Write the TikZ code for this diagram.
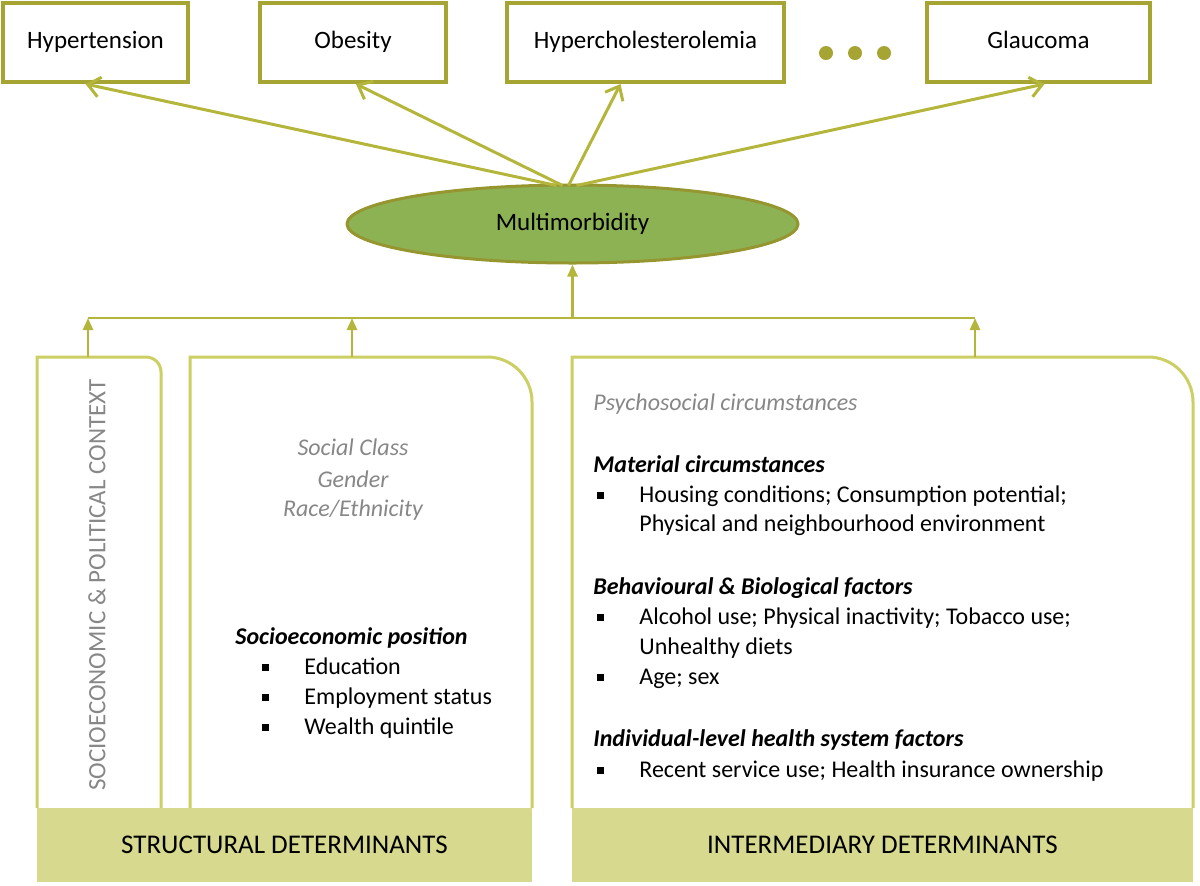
\documentclass[tikz,border=0pt]{standalone}
\usepackage{fontspec}
\setmainfont{Carlito}
\usetikzlibrary{positioning,arrows.meta,calc,shapes.geometric}

\definecolor{boxOlive}{RGB}{166,164,50}
\definecolor{lineOlive}{RGB}{180,182,60}
\definecolor{paleOlive}{RGB}{204,207,100}
\definecolor{bandFill}{RGB}{214,217,142}
\definecolor{mmFill}{RGB}{141,178,84}
\definecolor{mmDraw}{RGB}{150,150,48}
\definecolor{softGray}{RGB}{135,135,135}

\tikzset{
  disease/.style={draw=boxOlive, line width=2pt, fill=white, inner sep=0pt,
    minimum height=39.5pt, text height=0.8em, text depth=0.2em,
    font=\fontsize{12.5}{15}\selectfont},
  dot/.style={circle, fill=boxOlive, inner sep=0pt, minimum size=7pt},
  upline/.style={draw=lineOlive, line width=1.5pt,
    -{Straight Barb[length=6pt,width=10pt]}},
  busline/.style={draw=lineOlive, line width=1.3pt},
  busarrow/.style={draw=lineOlive, line width=1.2pt,
    -{Triangle[length=6pt,width=5pt]}},
  frame/.style={draw=paleOlive, line width=1.5pt},
  band/.style={fill=bandFill, inner sep=0pt, minimum height=37pt,
    font=\fontsize{13.5}{16}\selectfont},
  txt/.style={anchor=base west, inner sep=0pt, font=\fontsize{12}{14}\selectfont},
  head/.style={txt, font=\fontsize{12}{14}\selectfont\bfseries\itshape},
  soft/.style={inner sep=0pt, text=softGray, font=\fontsize{12}{14}\selectfont\itshape}
}
\newcommand{\bul}[1]{\makebox[21pt][l]{\rule[0.12em]{0.28em}{0.3em}}#1}

\begin{document}
\begin{tikzpicture}[x=0.5pt,y=-0.5pt]
\path[use as bounding box] (0,0) rectangle (1200,885);

% outcomes
\node[disease, minimum width=92.5pt] (hyp) at (95.5,42.5) {Hypertension};
\node[disease, minimum width=93pt] (obe) at (353,42.5) {Obesity};
\node[disease, minimum width=138.5pt] (hch) at (645.5,42.5) {Hypercholesterolemia};
\node[disease, minimum width=111.5pt] (gla) at (1038.5,42.5) {Glaucoma};
\foreach \dx [count=\i] in {826,855,884}
  \node[dot] (dot\i) at (\dx,53) {};

\node[ellipse, draw=mmDraw, line width=1.5pt, fill=mmFill, inner sep=0pt,
  minimum width=225.5pt, minimum height=39pt,
  font=\fontsize{12.5}{15}\selectfont] (mm) at (572.5,224) {Multimorbidity};

\draw[upline] ($(mm.north)+(-16,2)$) -- ($(hyp.south)+(-10,0)$);
\draw[upline] ($(mm.north)+(-10,2)$) -- ($(obe.south)+(3,0)$);
\draw[upline] ($(mm.north)+(-4,2)$) -- ($(hch.south)+(-25,0)$);
\draw[upline] ($(mm.north)+(4,2)$) -- ($(gla.south)+(6,0)$);

% determinants
\draw[frame] (37,808) -- (37,357) -- (146,357)
  .. controls (154.3,357) and (161,363.7) .. (161,372) -- (161,808);
\draw[frame] (190,808) -- (190,357) -- (487,357)
  .. controls (511.9,357) and (532,377.1) .. (532,402) -- (532,808);
\draw[frame] (572,808) -- (572,357) -- (1148,357)
  .. controls (1172.9,357) and (1193,377.1) .. (1193,402) -- (1193,808);

\coordinate (ctxtop) at (88,357);
\coordinate (strtop) at (352,357);
\coordinate (inttop) at (975,357);
\coordinate (bus) at (572.5,318);

\draw[busline] (ctxtop |- bus) -- (inttop |- bus);
\draw[busarrow] (ctxtop) -- (ctxtop |- bus);
\draw[busarrow] (strtop) -- (strtop |- bus);
\draw[busarrow] (inttop) -- (inttop |- bus);
\draw[busarrow] (bus) -- (mm.south);

\node[band, minimum width=247.5pt] (strband) at (284.5,845) {STRUCTURAL DETERMINANTS};
\node[band, minimum width=310.5pt] (intband) at (882.5,845) {INTERMEDIARY DETERMINANTS};

\node[rotate=90, inner sep=0pt, text=softGray, font=\fontsize{12.5}{15}\selectfont]
  (ctx) at (97,585) {SOCIOECONOMIC \& POLITICAL CONTEXT};

% structural
\node[soft] (cls) at (353,447) {Social Class};
\node[soft] (gen) at (353,479) {Gender};
\node[soft] (rce) at (353,510) {Race/Ethnicity};
\node[head] (sep) at (235,644) {Socioeconomic position};
\node[txt] (sep1) at (262,674) {\bul{Education}};
\node[txt] (sep2) at (262,704) {\bul{Employment status}};
\node[txt] (sep3) at (262,734) {\bul{Wealth quintile}};

% intermediary
\node[soft, anchor=base west] (psy) at (593,410) {Psychosocial circumstances};
\node[head] (mat) at (593,472) {Material circumstances};
\node[txt] (mat1) at (597,502) {\bul{Housing conditions; Consumption potential;}};
\node[txt] (mat2) at (597,531) {\hspace{21pt}Physical and neighbourhood environment};
\node[head] (beh) at (593,594) {Behavioural \& Biological factors};
\node[txt] (beh1) at (597,624) {\bul{Alcohol use; Physical inactivity; Tobacco use;}};
\node[txt] (beh2) at (597,654) {\hspace{21pt}Unhealthy diets};
\node[txt] (beh3) at (597,684) {\bul{Age; sex}};
\node[head] (hsf) at (593,746) {Individual-level health system factors};
\node[txt] (hsf1) at (597,777) {\bul{Recent service use; Health insurance ownership}};
\end{tikzpicture}
\end{document}
